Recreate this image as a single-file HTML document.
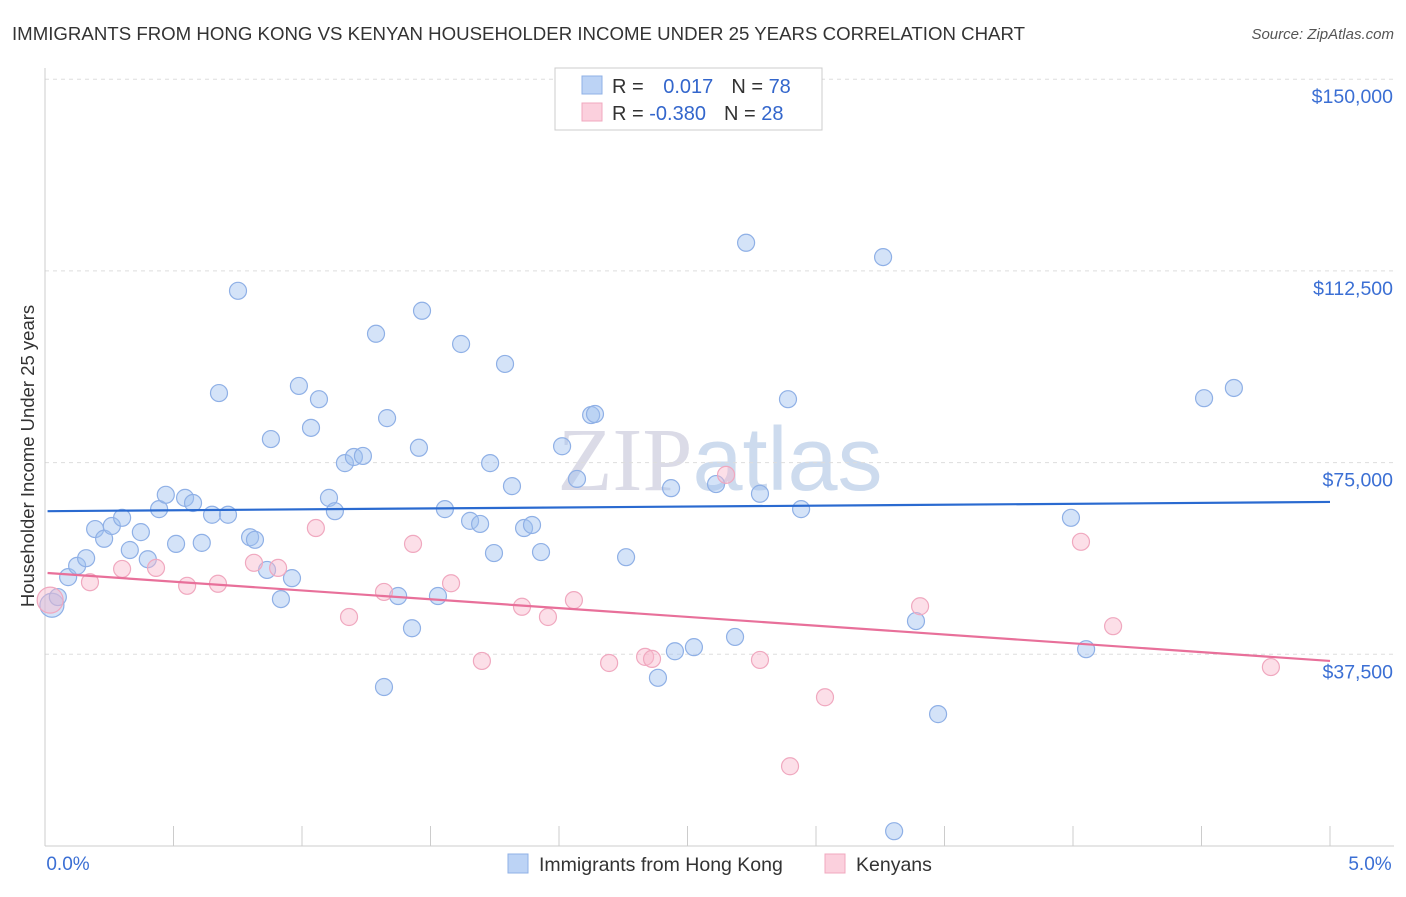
<!DOCTYPE html>
<html><head><meta charset="utf-8">
<style>
body{margin:0;background:#fff;font-family:"Liberation Sans",sans-serif;}
svg text{font-family:"Liberation Sans",sans-serif;}
</style></head>
<body>
<svg id="chart" width="1406" height="892" viewBox="0 0 1406 892" xmlns="http://www.w3.org/2000/svg">
<text x="12" y="40" font-size="18.5" fill="#333" textLength="1013" lengthAdjust="spacingAndGlyphs">IMMIGRANTS FROM HONG KONG VS KENYAN HOUSEHOLDER INCOME UNDER 25 YEARS CORRELATION CHART</text>
<text x="1394" y="39" font-size="15" fill="#555" text-anchor="end" font-style="italic">Source: ZipAtlas.com</text>
<text x="720" y="490" font-size="90" fill="#d8e2ef" text-anchor="middle" opacity="0.7"><tspan font-family="Liberation Serif" fill="#ccd">ZIP</tspan><tspan fill="#b9cde8">atlas</tspan></text>
<g id="grid"></g>
<g id="axes"></g>
<g id="marks"></g>
<text transform="translate(34,456) rotate(-90)" font-size="18.5" fill="#333" text-anchor="middle">Householder Income Under 25 years</text>
<g>
<rect x="555" y="68" width="267" height="62" fill="#fff" stroke="#ccc"/>
<rect x="582" y="76" width="20" height="18" fill="#bcd3f5" stroke="#8fb0e6"/>
<rect x="582" y="103" width="20" height="18" fill="#fbd0dd" stroke="#f0a8bf"/>
<text x="612" y="93" font-size="20" fill="#333">R = <tspan fill="#3366cc" dx="14">0.017</tspan><tspan dx="18">N = </tspan><tspan fill="#3366cc">78</tspan></text>
<text x="612" y="120" font-size="20" fill="#333">R = <tspan fill="#3366cc">-0.380</tspan><tspan dx="18">N = </tspan><tspan fill="#3366cc">28</tspan></text>
</g>
<g>
<rect x="508" y="854" width="20" height="19" fill="#bcd3f5" stroke="#8fb0e6"/>
<text x="539" y="871" font-size="19.5" fill="#333">Immigrants from Hong Kong</text>
<rect x="825" y="854" width="20" height="19" fill="#fbd0dd" stroke="#f0a8bf"/>
<text x="856" y="871" font-size="19.5" fill="#333">Kenyans</text>
</g>
</svg>
<script>
const yTicks=[37500,75000,112500,150000];
const yTickLabels=["$37,500","$75,000","$112,500","$150,000"];
const xTickLabels=["0.0%","5.0%"];
const hkX=[0.027,0.05,0.09,0.125,0.16,0.195,0.23,0.26,0.3,0.33,0.373,0.40,0.444,0.47,0.51,0.545,0.576,0.61,0.65,0.712,0.677,0.751,0.798,0.817,0.864,0.879,0.918,0.961,0.988,1.035,1.066,1.105,1.128,1.167,1.202,1.237,1.288,1.331,1.319,1.374,1.428,1.455,1.467,1.529,1.556,1.619,1.654,1.693,1.732,1.747,1.79,1.817,1.864,1.895,1.93,2.012,2.07,2.125,2.14,2.261,2.385,2.436,2.451,2.525,2.611,2.685,2.728,2.782,2.891,2.942,3.261,3.304,3.389,3.475,3.992,4.051,4.51,4.626];
const hkY=[47.1,48.7,52.6,54.8,56.3,62.0,60.1,62.6,64.2,57.9,61.4,56.1,65.9,68.7,59.1,68.1,67.1,59.3,64.8,64.8,88.6,108.6,60.4,59.9,54.0,79.6,48.3,52.4,90.0,81.8,87.4,68.1,65.5,74.9,76.1,76.3,100.2,83.7,31.1,48.9,42.6,77.9,104.7,48.9,65.9,98.2,63.6,63.0,74.9,57.3,94.3,70.4,62.2,62.8,57.5,78.2,71.8,84.3,84.5,56.5,32.9,70.0,38.1,38.9,70.8,40.9,118.0,68.9,87.4,65.9,115.2,2.9,44.0,25.8,64.2,38.5,87.6,89.6];
const keX=[0.02,0.175,0.30,0.432,0.553,0.673,0.813,0.907,1.054,1.183,1.319,1.432,1.58,1.7,1.856,1.957,2.058,2.195,2.335,2.362,2.65,2.782,2.899,3.035,3.405,4.031,4.156,4.77];
const keY=[48.1,51.6,54.2,54.4,50.9,51.3,55.4,54.4,62.2,44.8,49.7,59.1,51.4,36.2,46.8,44.8,48.1,35.8,37.0,36.6,72.6,36.4,15.6,29.1,46.9,59.5,43.0,35.0];
const hkTrend=[65.5,67.3];
const keTrend=[53.4,36.2];
const NS="http://www.w3.org/2000/svg";
const X0=45,X1=1330,Y0=846,PX=191.7/37500;
const xs=v=>X0+(v/5)*(X1-X0);
const ys=v=>Y0-v*PX;
function mk(tag,attrs,parent){const e=document.createElementNS(NS,tag);for(const k in attrs)e.setAttribute(k,attrs[k]);document.getElementById(parent).appendChild(e);return e;}
yTicks.forEach((t,i)=>{
 const l=mk('line',{x1:X0,x2:1394,y1:ys(t),y2:ys(t),stroke:'#ddd','stroke-dasharray':'4,4'},'grid');
 
 
 const tx=mk('text',{x:1393,y:ys(t)+24,'font-size':19.5,fill:'#3b6fd4','text-anchor':'end'},'axes');
 tx.textContent=yTickLabels[i];
 
 
});
const ax=mk('line',{x1:X0,x2:X0,y1:68,y2:846,stroke:'#ccc'},'axes');


const bx=mk('line',{x1:X0,x2:1394,y1:846,y2:846,stroke:'#ccc'},'axes');


for(let i=0;i<=10;i++){
 const t=mk('line',{x1:xs(i*0.5),x2:xs(i*0.5),y1:826,y2:846,stroke:'#ccc'},'axes');
 
 
}
[[0,68],[5,1370]].forEach((p,i)=>{
 const t=mk('text',{x:p[1],y:870,'font-size':19,fill:'#3b6fd4','text-anchor':'middle'},'axes');
 t.textContent=xTickLabels[i];
 
 
});
hkX.forEach((v,i)=>{
 const c=mk('circle',{cx:xs(v),cy:ys(hkY[i]*1000),r:i==0?12:8.5,fill:'rgba(160,192,240,0.45)',stroke:'#8fb0e6','stroke-width':1.2},'marks');
 
 
});
keX.forEach((v,i)=>{
 const c=mk('circle',{cx:xs(v),cy:ys(keY[i]*1000),r:i==0?13:8.5,fill:'rgba(248,185,205,0.45)',stroke:'#f0a8bf','stroke-width':1.2},'marks');
 
 
});
const t1=mk('line',{x1:xs(0.01),x2:xs(5),y1:ys(hkTrend[0]*1000),y2:ys(hkTrend[1]*1000),stroke:'#2a6ad0','stroke-width':2.2},'marks');


const t2=mk('line',{x1:xs(0.01),x2:xs(5),y1:ys(keTrend[0]*1000),y2:ys(keTrend[1]*1000),stroke:'#e8709a','stroke-width':2.2},'marks');


</script>
</body></html>
